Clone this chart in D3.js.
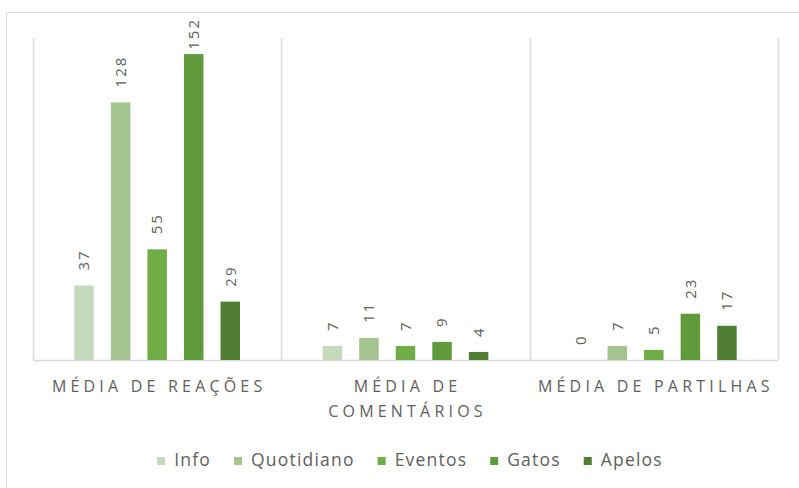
<!DOCTYPE html>
<html>
<head>
<meta charset="utf-8">
<script src="https://cdn.jsdelivr.net/npm/d3@7"></script>
<style>
  body { margin: 0; background: #fff; }
  text { font-family: "Open Sans", sans-serif; fill: #606060; }
</style>
</head>
<body>
<div class="chart"></div>
<script>
// chart data
var categories = [["MÉDIA DE REAÇÕES"], ["MÉDIA DE", "COMENTÁRIOS"], ["MÉDIA DE PARTILHAS"]];
var seriesNames = ["Info", "Quotidiano", "Eventos", "Gatos", "Apelos"];
var seriesColors = ["#c5d9bb", "#a3c48f", "#70ad47", "#5f9a3d", "#507e32"];
var info = [37, 7, 0];
var quotidiano = [128, 11, 7];
var eventos = [55, 7, 5];
var gatos = [152, 9, 23];
var apelos = [29, 4, 17];
var allSeries = [info, quotidiano, eventos, gatos, apelos];

var svgWidth = 799, svgHeight = 488;
var margin = {top: 38, right: 21, bottom: 128, left: 33};
var width = svgWidth - margin.left - margin.right;
var height = svgHeight - margin.top - margin.bottom;

var svg = d3.select(".chart")
  .append("svg")
  .attr("width", svgWidth)
  .attr("height", svgHeight);

// outer chart border (runs off the right and bottom of the picture)
svg.append("rect")
  .attr("x", 6.5)
  .attr("y", 12.5)
  .attr("width", 900)
  .attr("height", 600)
  .attr("fill", "none")
  .attr("stroke", "#d9d9d9");

var chartGroup = svg.append("g")
  .attr("transform", `translate(${margin.left}, ${margin.top})`);

var catKeys = categories.map(function(c, i) { return i; });

var x0 = d3.scaleBand()
  .domain(catKeys)
  .range([0, width])
  .padding(0);

var x1 = d3.scaleBand()
  .domain(d3.range(seriesNames.length))
  .range([0, x0.bandwidth()])
  .paddingInner(0.467)
  .paddingOuter(1.13);

var yScale = d3.scaleLinear()
  .domain([0, 160])
  .range([height, 0]);

// vertical separators between categories
var seps = catKeys.map(function(k) { return x0(k); }).concat([width]);
chartGroup.selectAll("line.sep")
  .data(seps)
  .enter()
  .append("line")
  .attr("class", "sep")
  .attr("x1", d => Math.round(d) + 0.5)
  .attr("x2", d => Math.round(d) + 0.5)
  .attr("y1", 0)
  .attr("y2", height)
  .attr("stroke", "#d9d9d9")
  .attr("stroke-width", 1.5);

// bottom axis line
chartGroup.append("line")
  .attr("x1", 0)
  .attr("x2", width)
  .attr("y1", height + 0.5)
  .attr("y2", height + 0.5)
  .attr("stroke", "#d9d9d9")
  .attr("stroke-width", 1.5);

// bars
var groups = chartGroup.selectAll("g.cat")
  .data(catKeys)
  .enter()
  .append("g")
  .attr("class", "cat")
  .attr("transform", d => `translate(${x0(d)}, 0)`);

var cells = groups.selectAll("g.cell")
  .data(function(c) {
    return allSeries.map(function(s, i) { return {series: i, value: s[c]}; });
  })
  .enter()
  .append("g")
  .attr("class", "cell");

cells.append("rect")
  .attr("x", d => x1(d.series))
  .attr("y", d => yScale(d.value))
  .attr("width", x1.bandwidth())
  .attr("height", d => height - yScale(d.value))
  .attr("fill", d => seriesColors[d.series]);

// rotated value labels
cells.append("text")
  .attr("font-size", "15px")
  .attr("letter-spacing", "2px")
  .attr("dy", "0.35em")
  .text(d => d.value)
  .attr("transform", function(d) {
    var len = this.getComputedTextLength();
    var start = Math.max(yScale(d.value) - 15, -margin.top + 18 + len);
    var cx = x1(d.series) + x1.bandwidth() / 2;
    return `translate(${cx}, ${start}) rotate(-90)`;
  });

// category labels
var catLabels = chartGroup.selectAll("text.catlabel")
  .data(catKeys)
  .enter()
  .append("text")
  .attr("class", "catlabel")
  .attr("y", height + 32)
  .attr("text-anchor", "middle")
  .attr("font-size", "16px")
  .attr("letter-spacing", "4.2px");

catLabels.selectAll("tspan")
  .data(d => categories[d].map(function(t, i) { return {t: t, i: i, c: d}; }))
  .enter()
  .append("tspan")
  .attr("x", d => x0(d.c) + x0.bandwidth() / 2 + 2)
  .attr("dy", d => d.i === 0 ? 0 : 25)
  .text(d => d.t);

// legend
var legend = svg.append("g").attr("class", "legend");
var items = legend.selectAll("g")
  .data(seriesNames)
  .enter()
  .append("g");

items.append("rect")
  .attr("width", 8)
  .attr("height", 8)
  .attr("y", -3)
  .attr("fill", (d, i) => seriesColors[i]);

items.append("text")
  .attr("x", 17)
  .attr("dy", "0.35em")
  .attr("font-size", "17.5px")
  .attr("letter-spacing", "1.2px")
  .text(d => d);

var pos = 0;
var offsets = [];
items.each(function() {
  offsets.push(pos);
  pos += this.getBBox().width + 23;
});
var total = pos - 23;
items.attr("transform", (d, i) => `translate(${offsets[i]}, 0)`);
legend.attr("transform", `translate(${410 - total / 2}, 460)`);
</script>
</body>
</html>
